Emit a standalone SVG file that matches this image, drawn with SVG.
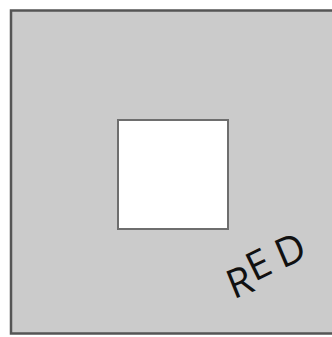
<svg xmlns="http://www.w3.org/2000/svg" width="332" height="337" viewBox="0 0 332 337">
<style>
.outer{fill:#cbcbcb;stroke:#555;stroke-width:2.5}
.inner{fill:#fff;stroke:#6e6e6e;stroke-width:2}
.lbl{font-family:"Open Sans","Liberation Sans",sans-serif;font-size:40px;font-weight:400;fill:#111}
</style>
<rect width="332" height="337" fill="#fff"/>
<g id="outer"><rect class="outer" x="11" y="10.5" width="330" height="323"/></g>
<g id="inner"><rect class="inner" x="118" y="120" width="110" height="109"/></g>
<g id="label"><text class="lbl" x="233.6 254.6 282.3" y="299.5 282 268.8" rotate="-22 -26 -23">RED</text></g>
</svg>
